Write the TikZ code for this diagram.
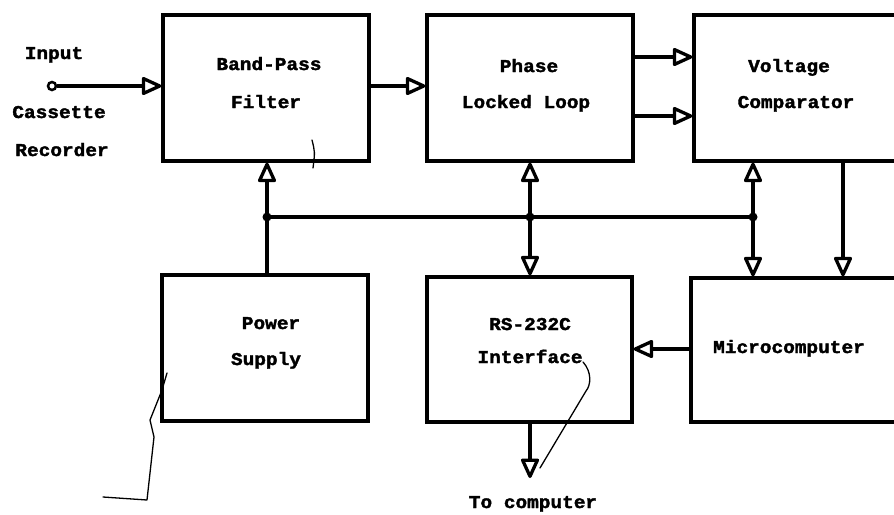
\documentclass[tikz,border=0pt]{standalone}
\usepackage{fontspec}
\setmonofont{Liberation Mono}[FakeStretch=1.08, BoldFeatures={FakeBold=2}]
\usetikzlibrary{arrows.meta}
\tikzset{
  blk/.style={draw, line width=3.3pt, inner sep=0pt, minimum width=206pt, minimum height=146pt},
  lbl/.style={font=\ttfamily\bfseries\fontsize{18}{18}\selectfont, anchor=base, inner sep=0pt},
  arr/.style={-{Triangle[open,round,length=22pt,width=19pt]}, line width=3.3pt},
  wire/.style={line width=3.3pt},
  jdot/.style={circle, fill, inner sep=0pt, minimum size=9pt},
  scrib/.style={line width=1.3pt, line cap=round, line join=round},
}
\begin{document}
\begin{tikzpicture}[x=1pt,y=-1pt]
\useasboundingbox (0,0) rectangle (894,514);
% blocks
\node[blk] (bpf) at (266,88) {};
\node[blk] (pll) at (530,88) {};
\node[blk, minimum width=204pt] (vc) at (796,88) {};
\node[blk] (ps) at (265,348) {};
\node[blk, minimum width=205pt, minimum height=145pt] (rs) at (529.5,349.5) {};
\node[blk, minimum width=207pt, minimum height=144pt] (mc) at (794.5,350) {};
% labels
\node[lbl] (tin) at (54,59) {Input};
\node[lbl] (tcas) at (59,118) {Cassette};
\node[lbl] (trec) at (62,156) {Recorder};
\node[lbl] (tbp) at (269,70) {Band-Pass};
\node[lbl] (tfi) at (266,108) {Filter};
\node[lbl] (tph) at (529,72) {Phase};
\node[lbl] (tll) at (526,108) {Locked Loop};
\node[lbl] (tvo) at (789,72) {Voltage};
\node[lbl] (tco) at (796,108) {Comparator};
\node[lbl] (tpo) at (271,329) {Power};
\node[lbl] (tsu) at (266,365) {Supply};
\node[lbl] (trs) at (530,330) {RS-232C};
\node[lbl] (tif) at (530,363) {Interface};
\node[lbl] (tmc) at (789,353) {Microcomputer};
\node[lbl] (ttc) at (533,508) {To computer};
% coordinates
\node[circle, draw, line width=2.5pt, inner sep=0pt, minimum size=8pt] (in) at (52,86) {};
\coordinate (r1) at (0,86);
\coordinate (r2) at (0,57);
\coordinate (r3) at (0,116);
\coordinate (j1) at (267,217);
\coordinate (j2) at (530,217);
\coordinate (j3) at (753,217);
\coordinate (x4) at (843,0);
\coordinate (y5) at (0,349);
\coordinate (tc) at (530,478);
% connectors
\draw[arr] (in.east) -- (bpf.west |- r1);
\draw[arr] (bpf.east |- r1) -- (pll.west |- r1);
\draw[arr] (pll.east |- r2) -- (vc.west |- r2);
\draw[arr] (pll.east |- r3) -- (vc.west |- r3);
\draw[wire] (j1) -- (j3);
\draw[arr] (ps.north -| j1) -- (bpf.south -| j1);
\draw[arr] (j2) -- (pll.south -| j2);
\draw[arr] (j2) -- (rs.north -| j2);
\draw[arr] (j3) -- (vc.south -| j3);
\draw[arr] (j3) -- (mc.north -| j3);
\draw[arr] (vc.south -| x4) -- (mc.north -| x4);
\draw[arr] (mc.west |- y5) -- (rs.east |- y5);
\draw[arr] (rs.south -| j2) -- (tc);
\node[jdot] at (j1) {};
\node[jdot] at (j2) {};
\node[jdot] at (j3) {};
% hand-drawn marks
\draw[scrib] (167,373) -- (162,390) -- (150,420) -- (154,437) -- (147,500) -- (103,497);
\draw[scrib] (583,362) .. controls (592,372) and (591,385) .. (586,391) -- (540,468);
\draw[scrib] (312,140) .. controls (315,152) .. (313,168);
\end{tikzpicture}
\end{document}
